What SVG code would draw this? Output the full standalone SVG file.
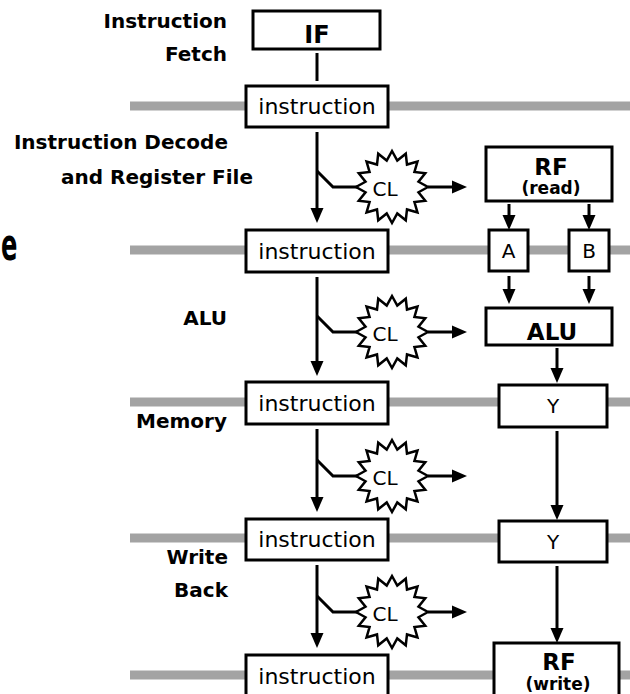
<svg xmlns="http://www.w3.org/2000/svg" xmlns:xlink="http://www.w3.org/1999/xlink" width="630" height="694" viewBox="0 0 630 694">
<style>
.box{fill:#fff;stroke:#000;stroke-width:3}
.bar{fill:#a3a3a3}
.lbl{font-family:"DejaVu Sans","Liberation Sans",sans-serif;font-weight:bold;font-size:20px;fill:#000;text-anchor:end}
.bold{font-family:"DejaVu Sans","Liberation Sans",sans-serif;font-weight:bold;fill:#000;text-anchor:middle}
.thin{font-family:"DejaVu Sans","Liberation Sans",sans-serif;font-weight:normal;fill:#000;text-anchor:middle}
.ins{font-size:22px}
.cl{font-size:20px}
.wire{fill:none;stroke:#000;stroke-width:3}
.arr{marker-end:url(#ah)}
.star{fill:#fff;stroke:#000;stroke-width:2.5;stroke-linejoin:miter}
</style>
<defs>
<marker id="ah" markerUnits="userSpaceOnUse" viewBox="0 -7 15 14" refX="1" refY="0" markerWidth="15" markerHeight="14" orient="auto">
<path d="M0,-6.5 L15,0 L0,6.5 Z" fill="#000"/>
</marker>
<path id="starShape" d="M36,0 L26.48,5.27 L33.26,13.78 L22.45,15 L25.46,25.46 L15,22.45 L13.78,33.26 L5.27,26.48 L0,36 L-5.27,26.48 L-13.78,33.26 L-15,22.45 L-25.46,25.46 L-22.45,15 L-33.26,13.78 L-26.48,5.27 L-36,0 L-26.48,-5.27 L-33.26,-13.78 L-22.45,-15 L-25.46,-25.46 L-15,-22.45 L-13.78,-33.26 L-5.27,-26.48 L0,-36 L5.27,-26.48 L13.78,-33.26 L15,-22.45 L25.46,-25.46 L22.45,-15 L33.26,-13.78 L26.48,-5.27 Z"/>
</defs>

<g id="pipeline-registers">
<rect class="bar" x="130" y="101.5" width="500" height="9"/>
<rect class="bar" x="130" y="245.5" width="500" height="9"/>
<rect class="bar" x="130" y="397.5" width="500" height="9"/>
<rect class="bar" x="130" y="533.5" width="500" height="9"/>
<rect class="bar" x="130" y="670.5" width="500" height="9"/>
</g>

<g id="stage-labels">
<text class="lbl" x="227" y="28">Instruction</text>
<text class="lbl" x="227" y="61">Fetch</text>
<text class="lbl" x="228" y="149">Instruction Decode</text>
<text class="lbl" x="253" y="184">and Register File</text>
<text class="lbl" x="227" y="325">ALU</text>
<text class="lbl" x="227" y="428">Memory</text>
<text class="lbl" x="228" y="564">Write</text>
<text class="lbl" x="228" y="597">Back</text>
<text transform="scale(0.55,1)" x="2" y="260" style="font-family:'DejaVu Sans','Liberation Sans',sans-serif;font-weight:bold;font-size:44px;fill:#000">e</text>
</g>

<g id="connectors">
<line class="wire" x1="317" y1="53" x2="317" y2="81"/>
<line class="wire arr" x1="317" y1="132" x2="317" y2="209"/>
<polyline class="wire" points="317,171 333,187 357,187"/>
<line class="wire arr" x1="428" y1="187" x2="453" y2="187"/>
<line class="wire arr" x1="317" y1="277" x2="317" y2="362"/>
<polyline class="wire" points="317,316 333,332 357,332"/>
<line class="wire arr" x1="428" y1="332" x2="453" y2="332"/>
<line class="wire arr" x1="317" y1="429" x2="317" y2="498"/>
<polyline class="wire" points="317,460 333,476 357,476"/>
<line class="wire arr" x1="428" y1="476" x2="453" y2="476"/>
<line class="wire arr" x1="317" y1="565" x2="317" y2="634"/>
<polyline class="wire" points="317,596 333,612 357,612"/>
<line class="wire arr" x1="428" y1="612" x2="453" y2="612"/>
<line class="wire arr" x1="509" y1="204" x2="509" y2="216"/>
<line class="wire arr" x1="589" y1="204" x2="589" y2="216"/>
<line class="wire arr" x1="509" y1="276" x2="509" y2="290"/>
<line class="wire arr" x1="589" y1="276" x2="589" y2="290"/>
<line class="wire arr" x1="557" y1="348" x2="557" y2="369"/>
<line class="wire arr" x1="557" y1="431" x2="557" y2="506"/>
<line class="wire arr" x1="557" y1="566" x2="557" y2="629"/>
</g>

<g id="IF">
<rect class="box" x="253" y="11" width="127" height="38"/>
<text class="bold" x="317" y="43" style="font-size:24px">IF</text>
</g>

<g id="instr1">
<rect class="box" x="246" y="86" width="142" height="41"/>
<text class="thin ins" x="317" y="114">instruction</text>
</g>
<g id="instr2">
<rect class="box" x="246" y="230" width="142" height="42"/>
<text class="thin ins" x="317" y="259">instruction</text>
</g>
<g id="instr3">
<rect class="box" x="246" y="382" width="142" height="42"/>
<text class="thin ins" x="317" y="411">instruction</text>
</g>
<g id="instr4">
<rect class="box" x="246" y="519" width="142" height="41"/>
<text class="thin ins" x="317" y="547">instruction</text>
</g>
<g id="instr5">
<rect class="box" x="246" y="655" width="142" height="45"/>
<text class="thin ins" x="317" y="684">instruction</text>
</g>

<g id="CL1">
<use xlink:href="#starShape" href="#starShape" class="star" x="392" y="187"/>
<text class="thin cl" x="385" y="196">CL</text>
</g>
<g id="CL2">
<use xlink:href="#starShape" href="#starShape" class="star" x="392" y="332"/>
<text class="thin cl" x="385" y="341">CL</text>
</g>
<g id="CL3">
<use xlink:href="#starShape" href="#starShape" class="star" x="392" y="476"/>
<text class="thin cl" x="385" y="485">CL</text>
</g>
<g id="CL4">
<use xlink:href="#starShape" href="#starShape" class="star" x="392" y="612"/>
<text class="thin cl" x="385" y="621">CL</text>
</g>

<g id="RF-read">
<rect class="box" x="486" y="147" width="126" height="54"/>
<text class="bold" x="551" y="175" style="font-size:23px">RF</text>
<text class="bold" x="551" y="194" style="font-size:17px">(read)</text>
</g>

<g id="A">
<rect class="box" x="489" y="230" width="39" height="41"/>
<text class="thin" x="508.5" y="258" style="font-size:20px">A</text>
</g>
<g id="B">
<rect class="box" x="569" y="230" width="40" height="41"/>
<text class="thin" x="589" y="258" style="font-size:20px">B</text>
</g>

<g id="ALU">
<rect class="box" x="486" y="308" width="126" height="37"/>
<text class="bold" x="552" y="340" style="font-size:23px">ALU</text>
</g>

<g id="Y1">
<rect class="box" x="499" y="385" width="108" height="42"/>
<text class="thin" x="553" y="413" style="font-size:20px">Y</text>
</g>
<g id="Y2">
<rect class="box" x="499" y="521" width="108" height="41"/>
<text class="thin" x="553" y="549" style="font-size:20px">Y</text>
</g>

<g id="RF-write">
<rect class="box" x="494" y="643" width="125" height="60"/>
<text class="bold" x="559" y="670" style="font-size:23px">RF</text>
<text class="bold" x="558" y="690" style="font-size:17px">(write)</text>
</g>
</svg>
